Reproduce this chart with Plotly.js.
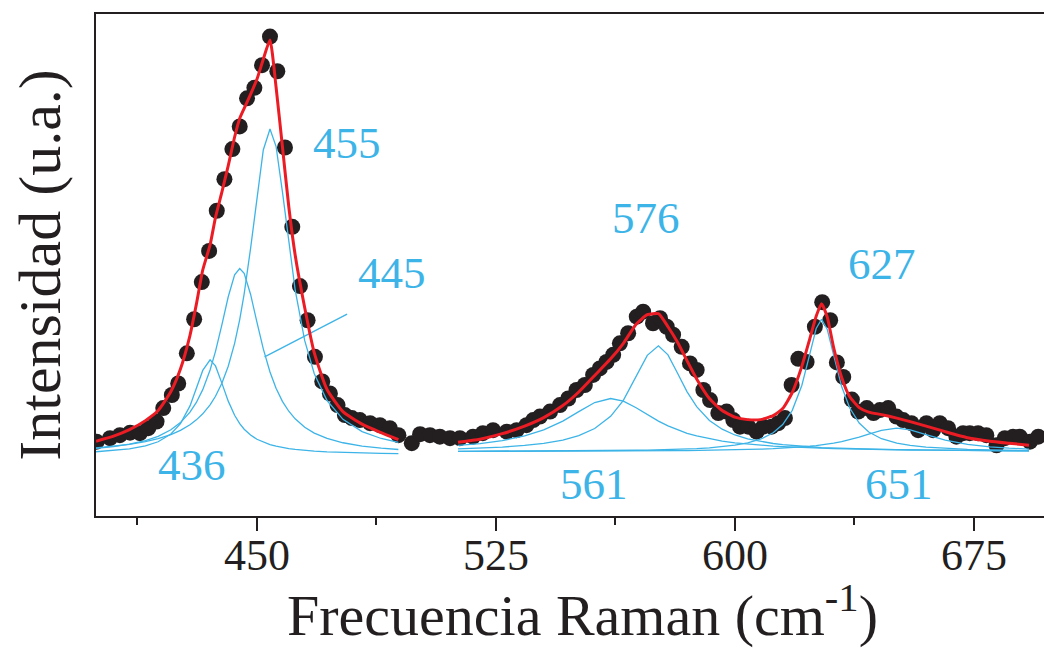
<!DOCTYPE html>
<html>
<head>
<meta charset="utf-8">
<script src="https://cdn.plot.ly/plotly-3.0.1.min.js"></script>
<style>html,body{margin:0;padding:0;background:#fff;}#chart{width:1044px;height:652px;}</style>
</head>
<body>
<div id="chart"></div>
<script>
// Measured Raman spectrum (dots)
const ramanX = [399.7,403.9,407.0,410.2,413.3,415.9,418.5,420.6,423.3,425.3,428.0,430.3,432.7,435.0,437.4,439.8,442.3,444.6,446.9,449.2,451.6,454.1,456.4,458.8,461.1,463.5,465.9,468.2,470.5,472.9,475.3,477.6,479.8,482.3,485.5,488.6,491.7,494.4,498.6,501.2,504.3,507.4,510.6,513.7,517.8,520.9,524.1,528.4,531.5,534.6,536.7,538.8,542.0,545.1,547.7,550.3,552.9,555.5,557.6,559.7,561.8,563.9,566.5,569.2,571.2,574.3,576.5,578.6,580.6,583.3,585.9,588.0,590.1,592.2,594.8,597.4,599.5,601.6,604.2,606.8,608.9,611.5,613.6,615.7,617.8,619.9,622.5,625.1,627.4,629.9,632.0,634.0,636.7,638.7,641.4,643.5,645.5,648.1,650.7,652.8,655.4,657.5,660.1,662.2,664.3,666.9,669.5,671.6,673.7,676.3,678.9,682.1,684.7,687.3,689.4,692.6,695.2];
const ramanY = [14.8,15.5,16.1,16.6,16.5,17.5,18.8,21.5,24.1,26.4,32.4,39.2,46.6,52.8,60.8,67.1,73.1,77.6,83.2,85.3,89.8,95.5,88.6,73.4,57.6,45.8,39.0,31.7,26.8,24.4,22.1,20.1,19.5,19.1,18.5,18.1,17.5,16.1,14.5,16.3,16.1,15.8,15.5,15.5,15.8,16.5,17.1,16.8,17.1,18.1,19.1,19.8,20.8,22.1,23.4,25.1,26.1,28.1,29.4,30.7,32.1,34.4,36.4,39.7,40.7,38.4,39.4,37.7,36.1,33.7,30.4,29.1,25.1,23.1,20.5,20.8,19.1,17.8,17.8,16.8,17.8,17.8,18.5,19.5,26.1,31.3,30.7,37.7,42.6,39.0,30.6,27.7,23.2,20.8,21.5,20.5,21.1,21.5,19.8,19.1,18.5,17.1,18.5,17.1,18.5,17.5,15.8,16.5,16.5,16.5,16.1,14.1,15.5,15.8,15.8,14.8,15.8];

// Fit, first window (bands 436, 445, 455)
const fitX1 = [399.5,405,410,415,419,423,426,429,431,433,435.3,437,439,441,443,444.6,446,448,450,452,454.1,456,458,460,462,465,468,472,477,483,489,494.4];
const band436 = [12.80,13.03,13.37,13.96,14.79,16.33,18.4,21.94,25.3,29.0,31.1,29.9,26.47,22.88,20.07,18.4,17.29,16.12,15.29,14.69,14.22,13.9,13.63,13.42,13.26,13.06,12.92,12.77,12.65,12.54,12.47,12.43];
const band445 = [13.47,13.83,14.31,15.03,15.88,17.17,18.61,20.69,22.62,25.17,29.09,32.8,38.07,43.67,48.04,49.3,48.32,44.18,38.62,33.3,28.7,25.45,22.83,20.87,19.35,17.69,16.52,15.46,14.59,13.93,13.51,13.25];
const band455 = [13.56,13.88,14.27,14.81,15.4,16.23,17.07,18.19,19.15,20.35,22.15,23.85,26.43,29.83,34.39,39.13,44.25,53.27,63.59,72.91,77.1,73.65,64.62,54.23,45.06,34.92,28.34,23.0,19.26,16.82,15.44,14.66];
const fitSum1 = [14.9,15.9,17.2,19.0,21.0,24.8,29.3,36.0,42.2,49.0,54.0,59.5,64.5,69.8,75.5,79.2,81.2,84.0,87.0,91.0,94.8,85.5,73.6,61.6,52.0,41.5,32.5,25.2,20.8,18.3,16.6,15.2];

// Fit, second window (bands 561, 576, 627, 651)
const fitX2 = [513.1,520,527,534,540,546,551,556,561,565,569,572.5,576,579,582,585,588,592,596,600,604,608,612,615,618,621,623.5,625.5,627.2,629,631,633.5,636,639,642,646,650.8,655,660,666,673,680,686,692.3];
const band561 = [14.05,14.43,15.02,15.94,17.14,18.91,20.79,22.6,23.4,22.87,21.57,20.2,18.91,17.95,17.14,16.48,15.94,15.36,14.92,14.58,14.31,14.09,13.92,13.81,13.71,13.63,13.57,13.53,13.49,13.46,13.42,13.38,13.35,13.31,13.27,13.23,13.19,13.15,13.12,13.09,13.05,13.02,13.0,12.98];
const band576 = [13.37,13.52,13.73,14.05,14.47,15.13,16.01,17.43,19.86,23.05,27.66,32.0,33.9,32.1,28.45,24.74,21.78,19.04,17.29,16.14,15.37,14.83,14.44,14.21,14.03,13.88,13.78,13.7,13.64,13.59,13.54,13.48,13.42,13.37,13.32,13.26,13.21,13.16,13.12,13.08,13.04,13.01,12.99,12.97];
const band627 = [12.88,12.89,12.9,12.92,12.93,12.95,12.97,13.0,13.03,13.06,13.1,13.14,13.18,13.23,13.29,13.36,13.44,13.59,13.8,14.1,14.56,15.29,16.57,18.22,21.05,26.0,32.26,37.35,39.2,37.15,32.0,25.8,21.57,18.51,16.74,15.39,14.5,14.05,13.71,13.46,13.28,13.16,13.09,13.04];
const band651 = [12.86,12.86,12.87,12.88,12.88,12.89,12.9,12.91,12.93,12.94,12.95,12.97,12.98,13.0,13.01,13.03,13.05,13.09,13.13,13.18,13.24,13.31,13.41,13.5,13.61,13.75,13.89,14.02,14.15,14.31,14.52,14.82,15.18,15.7,16.3,17.06,17.5,17.16,16.22,15.12,14.27,13.78,13.52,13.34];
const fitSum2 = [14.7,15.3,16.4,17.9,19.6,22.0,24.7,28.0,31.3,34.4,38.2,40.1,40.3,37.7,34.6,30.9,27.3,23.4,21.0,19.7,19.2,19.2,20.0,21.4,24.6,29.8,35.3,39.8,42.3,39.6,33.5,27.6,23.8,21.6,20.7,20.2,19.5,18.8,17.9,16.8,15.6,14.9,14.5,14.1];

// Band labels
const bandNames = ["455","445","436","576","627","561","651"];
const labelX = [478.2,492.4,429.6,572.1,646.1,555.7,651.4];
const labelY = [74.3,48.4,10.2,59.4,50.2,6.4,6.4];
// Leader line for the 445 label
const leaderX = [452.4,478.3];
const leaderY = [31.7,40.2];

const xTicks = [450,525,600,675];
const xTitle = "Frecuencia Raman (cm<sup>-1</sup>)";
const yTitle = "Intensidad (u.a.)";

const BLUE = "#3db4e7";
const RED = "#ec1c24";
const INK = "#231f20";
const FONT = "Liberation Serif, serif";

const blueLine = {color: BLUE, width: 1.3};
const traces = [
  {x: ramanX, y: ramanY, mode: "markers", type: "scatter",
   marker: {size: 16, color: INK}, hoverinfo: "skip"},
  {x: fitX1, y: band436, mode: "lines", line: blueLine},
  {x: fitX1, y: band445, mode: "lines", line: blueLine},
  {x: fitX1, y: band455, mode: "lines", line: blueLine},
  {x: fitX2, y: band561, mode: "lines", line: blueLine},
  {x: fitX2, y: band576, mode: "lines", line: blueLine},
  {x: fitX2, y: band627, mode: "lines", line: blueLine},
  {x: fitX2, y: band651, mode: "lines", line: blueLine},
  {x: leaderX, y: leaderY, mode: "lines", line: blueLine},
  {x: fitX1, y: fitSum1, mode: "lines", line: {color: RED, width: 3, shape: "spline", smoothing: 0.5}},
  {x: fitX2, y: fitSum2, mode: "lines", line: {color: RED, width: 3, shape: "spline", smoothing: 0.5}}
];

const annotations = bandNames.map((t, i) => ({
  x: labelX[i], y: labelY[i], xref: "x", yref: "y", text: t, showarrow: false,
  font: {family: FONT, size: 45, color: BLUE}, xanchor: "center", yanchor: "middle"
}));
annotations.push({
  x: 0.5137, y: -0.19, xref: "paper", yref: "paper", text: xTitle, showarrow: false,
  font: {family: FONT, size: 58, color: INK}, xanchor: "center", yanchor: "middle"
});

const layout = {
  width: 1044, height: 652,
  margin: {l: 96, r: 0, t: 14, b: 136, pad: 0},
  paper_bgcolor: "#fff", plot_bgcolor: "#fff",
  showlegend: false,
  font: {family: FONT, color: INK},
  xaxis: {
    range: [399.5, 697], tickvals: xTicks, ticktext: xTicks.map(String),
    ticks: "outside", ticklen: 13, tickwidth: 2, tickcolor: INK,
    ticklabelstandoff: -14,
    minor: {tickvals: [412.5, 487.5, 562.5, 637.5], ticks: "outside", ticklen: 7, tickwidth: 2, tickcolor: INK},
    showline: true, linewidth: 2, linecolor: INK, mirror: true,
    showgrid: false, zeroline: false,
    tickfont: {family: FONT, size: 44, color: INK}
  },
  yaxis: {
    range: [0, 100], showticklabels: false, ticks: "",
    showline: true, linewidth: 2, linecolor: INK,
    showgrid: false, zeroline: false,
    title: {text: yTitle, font: {family: FONT, size: 60, color: INK}, standoff: 14}
  },
  annotations: annotations
};

Plotly.newPlot("chart", traces, layout, {displayModeBar: false, staticPlot: true});
</script>
</body>
</html>
